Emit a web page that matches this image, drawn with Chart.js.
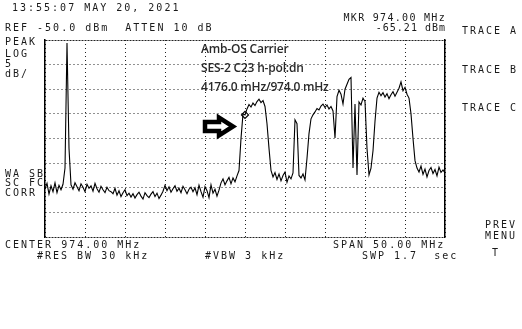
<!DOCTYPE html>
<html>
<head>
<meta charset="utf-8">
<script src="https://cdn.jsdelivr.net/npm/chart.js@4/dist/chart.umd.min.js"></script>
<style>
  body { margin: 0; background: #fff; }
  #wrap { position: relative; width: 522px; height: 329px; overflow: hidden; background: #fff; }
  #c { position: absolute; left: 0; top: 0; }
  .hp { position: absolute; font-family: "DejaVu Sans Mono", monospace; font-size: 10px; line-height: 10px;
        letter-spacing: 2px; color: #1a1a1a; white-space: pre; }
  .note { position: absolute; font-family: "Open Sans", "Liberation Sans", sans-serif; font-size: 12px; font-weight: 600;
          line-height: 12px; color: #2a2a2a; white-space: pre; letter-spacing: -0.2px; }
  svg { position: absolute; left: 0; top: 0; }
</style>
</head>
<body>
<div id="wrap">
  <canvas id="c" width="522" height="329"></canvas>
  <svg width="522" height="329">
    <polygon points="205,122 219,122 219,117.5 233,126.5 219,135.5 219,131 205,131"
             fill="#fff" stroke="#000" stroke-width="4.5" stroke-linejoin="miter"/>
  </svg>
  <div class="hp" style="left:12px;top:3px">13:55:07 MAY 20, 2021</div>
  <div class="hp" style="left:5px;top:23px">REF -50.0 dBm  ATTEN 10 dB</div>
  <div class="hp" style="right:76px;top:13px;letter-spacing:1.3px">MKR 974.00 MHz</div>
  <div class="hp" style="right:76px;top:23px;letter-spacing:1px">-65.21 dBm</div>
  <div class="hp" style="left:462px;top:26px">TRACE A</div>
  <div class="hp" style="left:462px;top:65px">TRACE B</div>
  <div class="hp" style="left:462px;top:103px">TRACE C</div>
  <div class="hp" style="left:5px;top:37px">PEAK</div>
  <div class="hp" style="left:5px;top:49px">LOG</div>
  <div class="hp" style="left:5px;top:59px">5</div>
  <div class="hp" style="left:5px;top:69px">dB/</div>
  <div class="hp" style="left:5px;top:169px">WA SB</div>
  <div class="hp" style="left:5px;top:178px">SC FC</div>
  <div class="hp" style="left:5px;top:188px">CORR</div>
  <div class="hp" style="left:5px;top:240px">CENTER 974.00 MHz</div>
  <div class="hp" style="left:333px;top:240px">SPAN 50.00 MHz</div>
  <div class="hp" style="left:37px;top:251px">#RES BW 30 kHz</div>
  <div class="hp" style="left:205px;top:251px">#VBW 3 kHz</div>
  <div class="hp" style="left:362px;top:251px">SWP 1.7  sec</div>
  <div class="hp" style="left:485px;top:220px">PREV</div>
  <div class="hp" style="left:485px;top:231px">MENU</div>
  <div class="hp" style="left:492px;top:248px">T</div>
  <div class="note" style="left:201px;top:43px">Amb-OS Carrier</div>
  <div class="note" style="left:201px;top:62px">SES-2 C23 h-pol:dn</div>
  <div class="note" style="left:201px;top:81px">4176.0 mHz/974.0 mHz</div>
</div>
<script>
// sweep settings (MHz) and reference level (dBm)
var startMHz = 949;
var stopMHz = 999;
var refLevel = -50;
var bottomLevel = -90;
var markerMHz = 974.0;
var markerDbm = -65.21;

// trace A, one value per sweep point (201 points over the span)
var traceA = [
  -80.2, -79.1, -81.3, -79.6, -80.8, -79.0, -81.0, -79.5, -80.4, -79.3,
  -76.0, -50.6, -72.0,
  -79.4, -80.3, -79.0, -79.8, -80.6, -79.2, -79.9, -80.8, -79.3, -80.1,
  -79.6, -80.7, -79.1, -80.2, -80.9, -79.7, -80.4, -81.0, -79.9, -80.6,
  -80.8, -81.2, -80.1, -81.5, -80.6, -81.8, -81.0, -80.4, -81.6, -81.1,
  -81.9, -81.2, -82.1, -81.4, -80.9, -81.7, -82.3, -81.0, -81.6, -82.0,
  -81.3, -80.8, -81.8, -81.1, -82.2, -81.5, -80.7,
  -79.5, -80.6, -79.8, -80.9, -80.2, -79.6, -80.7, -80.1, -81.0, -79.7,
  -80.4, -81.2, -80.3, -79.9, -80.8,
  -80.0, -81.4, -79.5, -80.8, -81.9, -79.8, -80.6, -82.0, -79.4, -81.1,
  -80.3, -81.7, -80.5,
  -79.0, -78.2, -79.4, -78.6, -77.9, -79.2, -78.0, -78.8, -77.6,
  -76.5, -70.0, -65.0, -65.21,
  -64.0, -63.1, -63.6, -62.8, -63.3, -62.5, -62.0, -62.7, -62.3, -63.5,
  -67.0, -72.0, -76.5,
  -77.8, -76.9, -78.3, -77.2, -78.6, -77.5, -76.8, -78.9, -77.6, -78.2,
  -77.0, -66.2, -67.0, -77.5,
  -78.0, -77.2, -78.4,
  -74.0, -69.0, -66.0, -65.2,
  -64.6, -63.9, -64.2, -63.4, -63.0, -63.7, -63.2, -64.0, -63.5, -64.4,
  -69.9, -61.5, -60.2, -61.0, -63.0, -60.0, -59.0, -58.0, -57.6,
  -76.0, -63.0, -77.4, -62.6, -63.2, -61.8, -62.5, -72.0, -77.4, -76.0,
  -72.5, -66.5, -61.8, -60.6,
  -61.3, -60.7, -61.6, -60.9, -61.9, -61.1, -60.5, -61.4, -60.6, -59.8,
  -58.5, -60.3, -59.6, -61.0, -61.8,
  -65.0, -70.0, -74.5, -76.0,
  -76.8, -75.6, -77.3, -76.2, -77.8, -76.5, -75.9, -77.1, -76.3, -77.6,
  -75.8, -76.9, -76.4, -77.0
];

var step = (stopMHz - startMHz) / (traceA.length - 1);
var pts = traceA.map(function (v, i) { return { x: startMHz + i * step, y: v }; });

new Chart(document.getElementById("c"), {
  type: "line",
  data: {
    datasets: [
      {
        label: "Trace A",
        data: pts,
        borderColor: "#000",
        borderWidth: 1.1,
        pointRadius: 0,
        tension: 0,
        fill: false
      },
      {
        label: "Marker",
        data: [{ x: markerMHz, y: markerDbm }],
        showLine: false,
        pointStyle: "rectRot",
        pointRadius: 3.5,
        pointBorderColor: "#000",
        pointBackgroundColor: "#fff",
        pointBorderWidth: 1.2
      }
    ]
  },
  options: {
    responsive: false,
    animation: false,
    layout: { padding: { left: 45, right: 77, top: 40, bottom: 92 } },
    plugins: { legend: { display: false }, tooltip: { enabled: false } },
    scales: {
      x: {
        type: "linear",
        min: startMHz,
        max: stopMHz,
        ticks: { display: false, stepSize: 5 },
        grid: { color: "#222", lineWidth: 1, drawTicks: false },
        border: { display: false, dash: [1, 3] },
        afterFit: function (s) { s.height = 0; }
      },
      y: {
        min: bottomLevel,
        max: refLevel,
        ticks: { display: false, stepSize: 5 },
        grid: { color: "#222", lineWidth: 1, drawTicks: false },
        border: {
          display: true, color: "#000", width: 1.5,
          dash: function (ctx) {
            var v = ctx.tick ? ctx.tick.value : null;
            return (v === refLevel || v === bottomLevel) ? [2, 1] : [1, 3];
          }
        },
        afterFit: function (s) { s.width = 0; }
      },
      y2: {
        position: "right",
        min: bottomLevel,
        max: refLevel,
        ticks: { display: false },
        grid: { display: false, drawTicks: false },
        border: { display: true, color: "#000", width: 1.5 },
        afterFit: function (s) { s.width = 0; }
      }
    }
  }
});
</script>
</body>
</html>
